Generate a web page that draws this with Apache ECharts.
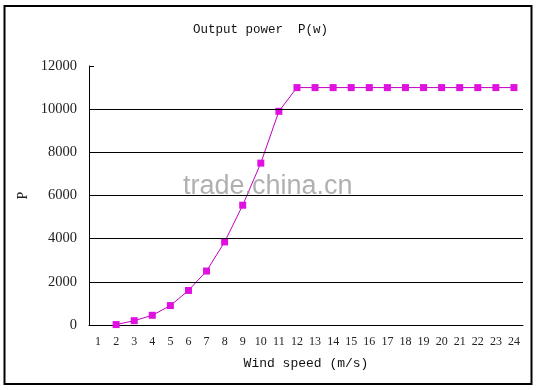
<!DOCTYPE html>
<html>
<head>
<meta charset="utf-8">
<script src="https://cdn.jsdelivr.net/npm/echarts@6/dist/echarts.min.js"></script>
<style>html,body{margin:0;padding:0;background:#fff}#c{width:536px;height:390px}</style>
</head>
<body>
<div id="c"></div>
<script>
const windSpeeds = ['1','2','3','4','5','6','7','8','9','10','11','12','13','14','15','16','17','18','19','20','21','22','23','24'];
const powerValues = [null, 20, 200, 450, 900, 1600, 2500, 3850, 5550, 7500, 9900, 11000, 11000, 11000, 11000, 11000, 11000, 11000, 11000, 11000, 11000, 11000, 11000, 11000];
const gridValues = [2000, 4000, 6000, 8000, 10000];

const SERIF = '"Liberation Serif", "DejaVu Serif", serif';
const MONO = '"Liberation Mono", "DejaVu Sans Mono", monospace';
const chart = echarts.init(document.getElementById('c'), null, {renderer: 'canvas'});
chart.setOption({
  animation: false,
  backgroundColor: '#fff',
  title: {
    text: 'Output power  P(w)',
    left: 188,
    top: 18,
    textStyle: {fontFamily: MONO, fontSize: 12.5, fontWeight: 'normal', color: '#111'}
  },
  grid: {left: 89, right: 13, top: 66, bottom: 65, containLabel: false},
  xAxis: {
    type: 'category',
    data: windSpeeds,
    boundaryGap: true,
    name: 'Wind speed (m/s)',
    nameLocation: 'middle',
    nameGap: 32,
    nameTextStyle: {fontFamily: MONO, fontSize: 13, color: '#111'},
    axisLine: {lineStyle: {color: '#000', width: 1}},
    axisTick: {inside: true, length: 4, lineStyle: {color: '#000'}},
    axisLabel: {fontFamily: SERIF, fontSize: 12, color: '#222', margin: 11, interval: 0},
    splitLine: {show: false}
  },
  yAxis: {
    type: 'value',
    min: 0,
    max: 12000,
    interval: 2000,
    name: 'P',
    nameLocation: 'middle',
    nameGap: 56,
    nameRotate: 90,
    nameTextStyle: {fontFamily: SERIF, fontSize: 14, color: '#222'},
    axisLine: {show: true, lineStyle: {color: '#000', width: 1}},
    axisTick: {show: true, inside: true, length: 5, lineStyle: {color: '#000'}},
    axisLabel: {fontFamily: SERIF, fontSize: 14.5, color: '#222', margin: 12, formatter: v => String(v)},
    splitLine: {show: false}
  },
  series: [{
    type: 'line',
    data: powerValues,
    symbol: 'rect',
    symbolSize: 7,
    connectNulls: false,
    lineStyle: {color: '#c000c0', width: 1},
    itemStyle: {color: '#e010e0', borderWidth: 0},
    markLine: {
      silent: true,
      symbol: ['none', 'none'],
      label: {show: false},
      lineStyle: {color: '#000', width: 1, type: 'solid'},
      data: gridValues.map(v => ({yAxis: v}))
    },
    z: 3
  }],
  graphic: [
    {
      type: 'rect',
      shape: {x: 4.5, y: 6, width: 527, height: 378},
      style: {fill: 'none', stroke: '#000', lineWidth: 2},
      silent: true
    },
    {
      type: 'text',
      left: 183,
      top: 173,
      style: {text: 'trade.china.cn', font: '27px "Liberation Sans", Arial, sans-serif', fill: 'rgba(150,150,150,0.75)'},
      silent: true,
      z: 10
    }
  ]
});
</script>
</body>
</html>
